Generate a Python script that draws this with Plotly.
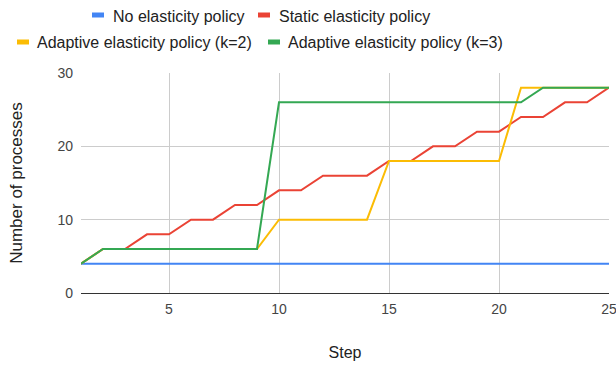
import plotly.graph_objects as go

# Simulation steps and number of processes per policy
steps = list(range(1, 26))
no_elasticity = [4] * 25
static_elasticity = [4, 6, 6, 8, 8, 10, 10, 12, 12, 14, 14, 16, 16, 16, 18,
                     18, 20, 20, 22, 22, 24, 24, 26, 26, 28]
adaptive_k2 = [4, 6, 6, 6, 6, 6, 6, 6, 6, 10, 10, 10, 10, 10, 18,
               18, 18, 18, 18, 18, 28, 28, 28, 28, 28]
adaptive_k3 = [4, 6, 6, 6, 6, 6, 6, 6, 6, 26, 26, 26, 26, 26, 26,
               26, 26, 26, 26, 26, 26, 28, 28, 28, 28]

series_names = ["No elasticity policy", "Static elasticity policy",
                "Adaptive elasticity policy (k=2)", "Adaptive elasticity policy (k=3)"]
series_values = [no_elasticity, static_elasticity, adaptive_k2, adaptive_k3]
colors = ["#4285F4", "#EA4335", "#FBBC04", "#34A853"]

W, H = 616, 365
L, R, T, B = 81, 7, 73, 72

fig = go.Figure()
for name, vals, col in zip(series_names, series_values, colors):
    fig.add_trace(go.Scatter(x=steps, y=vals, mode="lines", name=name,
                             line=dict(color=col, width=2), showlegend=False))

# Custom two-row legend at the top (paper coordinates from pixels)
def px_x(px):
    return (px - L) / (W - L - R)

def px_y(py):
    return (H - B - py) / (H - T - B)

legend_items = [
    (0, 92, 111, 15),
    (1, 258, 277, 15),
    (2, 17, 35, 42),
    (3, 268, 286, 42),
]
shapes = []
annotations = []
for idx, sx, tx, cy in legend_items:
    shapes.append(dict(type="rect", xref="paper", yref="paper",
                       x0=px_x(sx), x1=px_x(sx + 12),
                       y0=px_y(cy + 2.5), y1=px_y(cy - 2.5),
                       fillcolor=colors[idx], line=dict(width=0)))
    annotations.append(dict(text=series_names[idx], xref="paper", yref="paper",
                            x=px_x(tx), y=px_y(cy + 1), xanchor="left", yanchor="middle",
                            showarrow=False, font=dict(size=16, color="#222222")))

fig.update_layout(
    width=W, height=H,
    margin=dict(l=L, r=R, t=T, b=B, autoexpand=False),
    paper_bgcolor="white", plot_bgcolor="white",
    font=dict(family="Liberation Sans, Arial, sans-serif", color="#222222"),
    shapes=shapes, annotations=annotations,
    xaxis=dict(range=[1, 25], tickvals=[5, 10, 15, 20, 25], showgrid=True,
               gridcolor="#cccccc", gridwidth=1, zeroline=False, showline=False,
               tickfont=dict(size=14, color="#444444"), ticklabelstandoff=6,
               ticklabeloverflow="allow", automargin=False,
               title=dict(text="Step", font=dict(size=16, color="#222222"), standoff=30)),
    yaxis=dict(range=[0, 30], tickvals=[0, 10, 20, 30], showgrid=True,
               gridcolor="#cccccc", gridwidth=1, zeroline=True, zerolinecolor="#333333",
               zerolinewidth=1, showline=False, automargin=False,
               tickfont=dict(size=14, color="#444444"), ticklabelstandoff=7,
               title=dict(text="Number of processes", font=dict(size=17, color="#222222"),
                          standoff=30)),
)

fig.write_html("out.html")
